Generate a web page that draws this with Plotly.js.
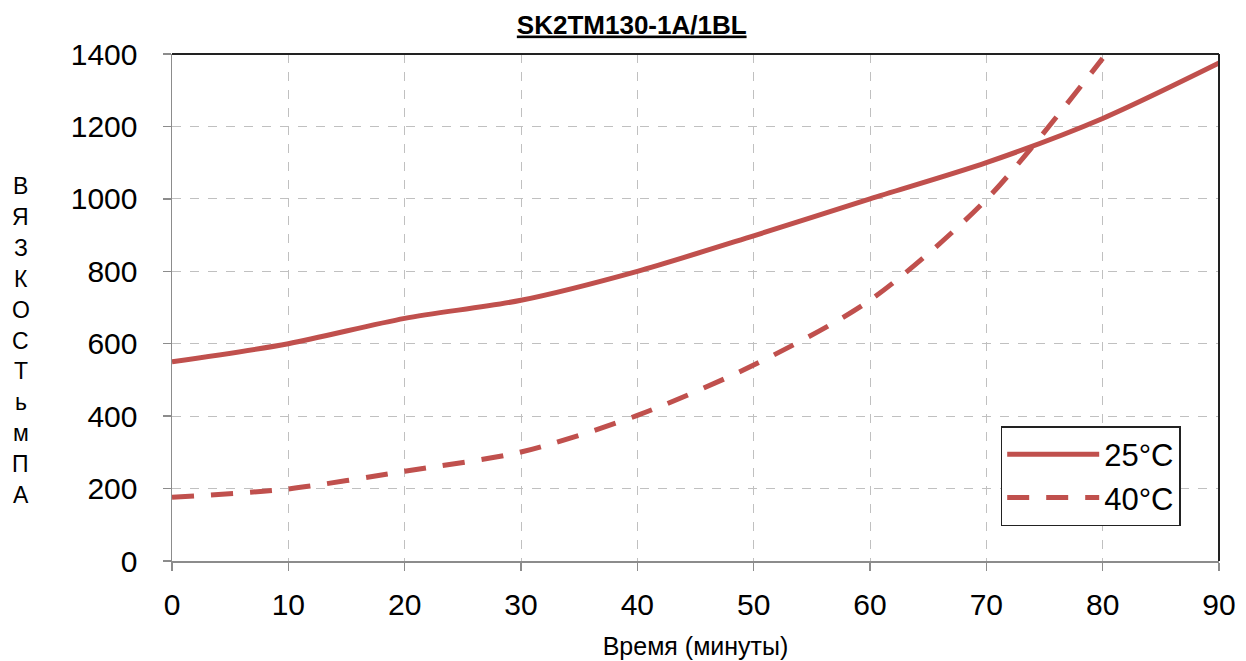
<!DOCTYPE html>
<html>
<head>
<meta charset="utf-8">
<script src="https://cdn.plot.ly/plotly-3.0.1.min.js"></script>
<style>html,body{margin:0;padding:0;background:#fff;}#chart{width:1246px;height:661px;}</style>
</head>
<body>
<div id="chart"></div>
<script>
const minutes = [0, 10, 20, 30, 40, 50, 60, 70, 80, 90];
const visc25 = [550, 600, 670, 720, 800, 898, 1000, 1100, 1222, 1375];
const minutes40 = [0, 10, 20, 30, 40, 50, 60, 70, 80];
const visc40 = [176, 199, 248, 301, 402, 541, 720, 998, 1388];
const seriesNames = ['25°C', '40°C'];
const xTicks = [0, 10, 20, 30, 40, 50, 60, 70, 80, 90];
const yTicks = [0, 200, 400, 600, 800, 1000, 1200, 1400];
const yTitleLetters = ['В', 'Я', 'З', 'К', 'О', 'С', 'Т', 'ь', 'м', 'П', 'А'];

const FONT = 'Liberation Sans, Arial, sans-serif';
const RED = '#C0504D';

const traces = [
  {x: minutes, y: visc25, name: seriesNames[0], mode: 'lines',
   line: {color: RED, width: 5, shape: 'spline', smoothing: 0.8}},
  {x: minutes40, y: visc40, name: seriesNames[1], mode: 'lines',
   line: {color: RED, width: 5, shape: 'spline', smoothing: 0.8, dash: '22px,17px'}}
];

const annotations = yTitleLetters.map((ch, i) => ({
  text: ch, xref: 'paper', yref: 'paper', x: -0.1445, xanchor: 'center',
  y: (561 - 186 - i * 30.9) / 507, yanchor: 'middle', showarrow: false,
  font: {family: FONT, size: 23, color: '#000'}
}));

const layout = {
  width: 1246, height: 661,
  margin: {l: 172, r: 27, t: 54, b: 100},
  paper_bgcolor: '#fff', plot_bgcolor: '#fff',
  font: {family: FONT, color: '#000'},
  title: {text: '<b><u>SK2TM130-1A/1BL</u></b>', font: {family: FONT, size: 26, color: '#000'},
          xref: 'container', x: 0.507, xanchor: 'center', yref: 'container', y: 0.963, yanchor: 'middle'},
  xaxis: {range: [0, 90], tickvals: xTicks, ticktext: xTicks.map(String),
          showgrid: true, gridcolor: '#c0c0c0', griddash: 'dash', gridwidth: 1,
          showline: true, linecolor: '#8c8c8c', linewidth: 1.5,
          ticks: 'outside', ticklen: 8, tickcolor: '#8c8c8c', tickwidth: 1.5,
          tickfont: {family: FONT, size: 30, color: '#000'}, ticklabelstandoff: 8,
          zeroline: false,
          title: {text: 'Время (минуты)', font: {family: FONT, size: 25, color: '#000'}, standoff: 18}},
  yaxis: {range: [0, 1400], tickvals: yTicks, ticktext: yTicks.map(String),
          showgrid: true, gridcolor: '#c0c0c0', griddash: 'dash', gridwidth: 1,
          showline: true, linecolor: '#8c8c8c', linewidth: 1.5,
          ticks: 'outside', ticklen: 8, tickcolor: '#8c8c8c', tickwidth: 1.5,
          tickfont: {family: FONT, size: 30, color: '#000'}, ticklabelstandoff: 19,
          zeroline: false},
  shapes: [
    {type: 'line', xref: 'paper', yref: 'paper', x0: 0, x1: 1, y0: 1, y1: 1, line: {color: '#222', width: 2}},
    {type: 'line', xref: 'paper', yref: 'paper', x0: 1, x1: 1, y0: 0, y1: 1, line: {color: '#222', width: 2}}
  ],
  legend: {x: 0.7915, y: 0.266, xanchor: 'left', yanchor: 'top',
           bgcolor: '#fff', bordercolor: '#222', borderwidth: 1.5,
           font: {family: FONT, size: 31, color: '#000'}, itemwidth: 92, tracegroupgap: 6},
  showlegend: true,
  annotations: annotations
};

Plotly.newPlot('chart', traces, layout, {displayModeBar: false, staticPlot: true});
</script>
</body>
</html>
